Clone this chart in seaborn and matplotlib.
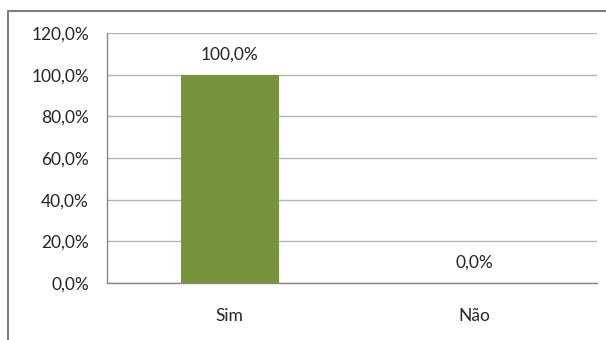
import matplotlib
matplotlib.use("Agg")
import matplotlib.pyplot as plt
import matplotlib.ticker as mticker
import seaborn as sns
import pandas as pd

# data
categorias = ["Sim", "Não"]
percentuais = [100.0, 0.0]
yticks = [0, 20, 40, 60, 80, 100, 120]

cor_barra = "#77933C"
cor_eixo = "#868686"
cor_grade = "#B4B4B4"
cor_texto = "#262626"
fontsz = 12.5

sns.set_theme(style="white")
plt.rcParams["font.family"] = ["Lato", "DejaVu Sans"]

df = pd.DataFrame({"cat": categorias, "pct": percentuais})

fig = plt.figure(figsize=(6.06, 3.4), dpi=100)
ax = fig.add_axes([107 / 606, 1 - 283 / 340, 490 / 606, 250 / 340])

sns.barplot(data=df, x="cat", y="pct", color=cor_barra, width=0.4,
            saturation=1, linewidth=0, ax=ax, zorder=3)

def pct_br(v, pos=None):
    return ("%.1f%%" % v).replace(".", ",")

ax.set_ylim(0, 120)
ax.set_xlim(-0.5, 1.5)
ax.set_yticks(yticks)
ax.yaxis.set_major_formatter(mticker.FuncFormatter(pct_br))
ax.grid(axis="y", color=cor_grade, linewidth=1, zorder=0)
ax.set_axisbelow(True)

for i, v in enumerate(percentuais):
    ax.annotate(pct_br(v), (i, v), xytext=(0, 9), textcoords="offset points",
                ha="center", va="bottom", fontsize=fontsz, color=cor_texto)

# category boundary ticks on x axis
ax.set_xticks([-0.5, 0.5, 1.5], minor=True)
ax.tick_params(axis="x", which="major", length=0, pad=18, labelsize=fontsz,
               labelcolor=cor_texto)
ax.tick_params(axis="x", which="minor", length=5, color=cor_eixo, width=1,
               direction="out")
ax.tick_params(axis="y", length=6, color=cor_eixo, width=1, direction="out",
               pad=7, labelsize=fontsz, labelcolor=cor_texto)
ax.set_xlabel("")
ax.set_ylabel("")

for s in ["top", "right"]:
    ax.spines[s].set_visible(False)
for s in ["left", "bottom"]:
    ax.spines[s].set_color(cor_eixo)
    ax.spines[s].set_linewidth(1)

# outer chart border (only top and left are in frame)
fig.add_artist(plt.Line2D([8 / 606, 8 / 606], [0, 1 - 11 / 340],
                          transform=fig.transFigure, color="#7F7F7F", lw=1.5))
fig.add_artist(plt.Line2D([8 / 606, 1], [1 - 11 / 340, 1 - 11 / 340],
                          transform=fig.transFigure, color="#7F7F7F", lw=1.5))

fig.savefig("out.png", dpi=100, facecolor="white")
